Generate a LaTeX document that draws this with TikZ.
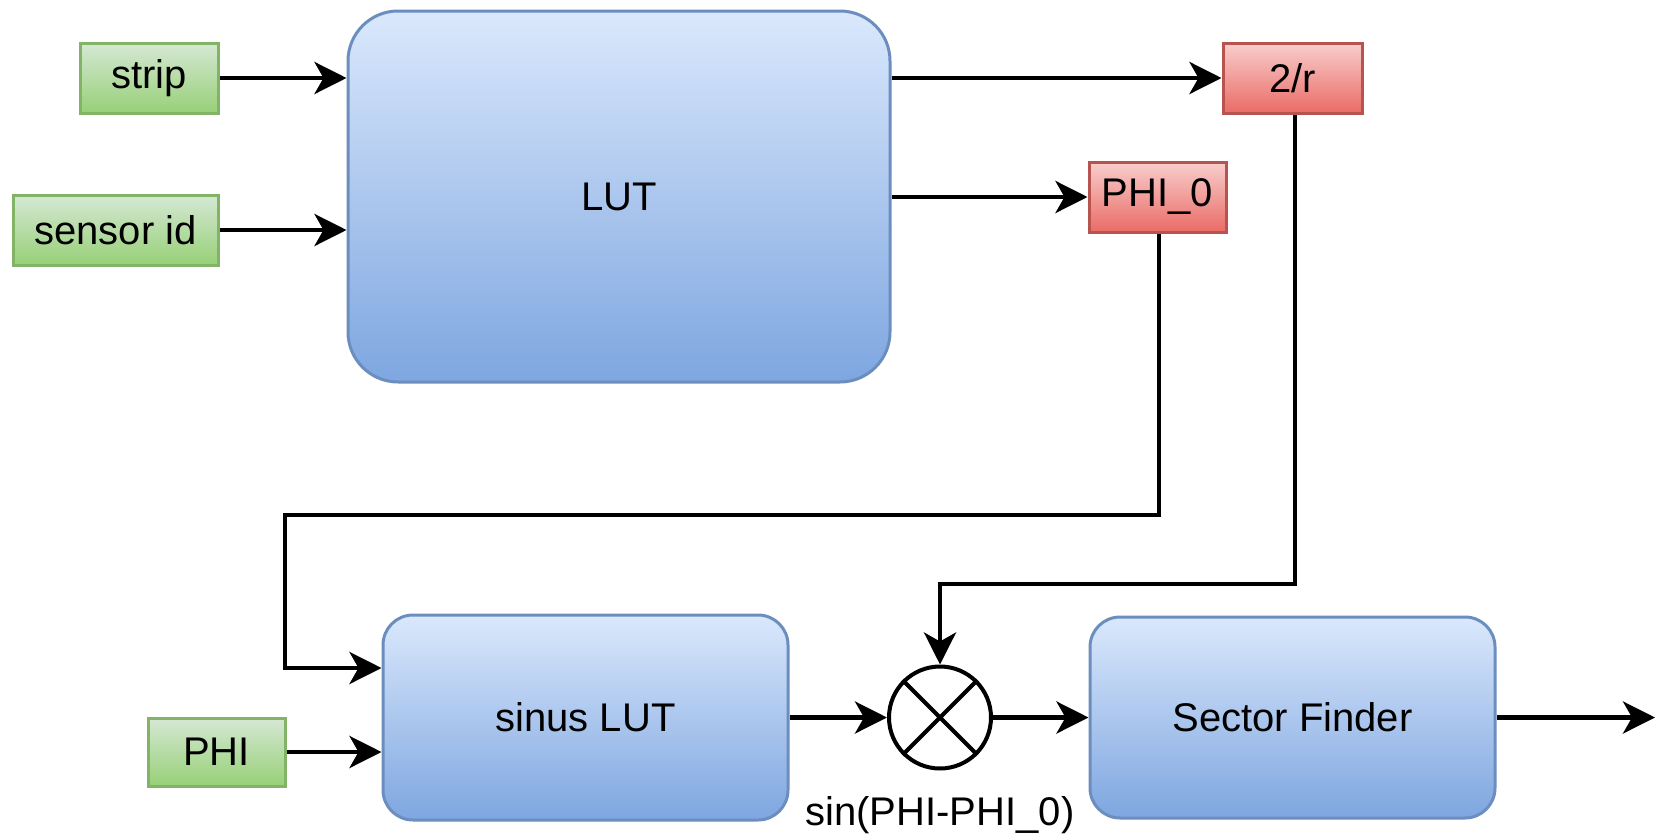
\documentclass[tikz,border=0pt]{standalone}
\usepackage{fontspec}
\setmainfont{Liberation Sans}
\usetikzlibrary{arrows.meta}

\definecolor{ingreen}{HTML}{D5E8D4}
\definecolor{ingreendark}{HTML}{97D077}
\definecolor{ingreenline}{HTML}{82B366}
\definecolor{outred}{HTML}{F8CECC}
\definecolor{outreddark}{HTML}{EA6B66}
\definecolor{outredline}{HTML}{B85450}
\definecolor{lutblue}{HTML}{DAE8FC}
\definecolor{lutbluedark}{HTML}{7EA6E0}
\definecolor{lutblueline}{HTML}{6C8EBF}

\tikzset{
  inbox/.style={draw=ingreenline,top color=ingreen,bottom color=ingreendark,
                minimum height=70pt},
  outbox/.style={draw=outredline,top color=outred,bottom color=outreddark,
                 minimum height=70pt,inner sep=2pt},
  lutbox/.style={draw=lutblueline,top color=lutblue,bottom color=lutbluedark},
}

\begin{document}
\begin{tikzpicture}[x=1pt,y=-1pt]
\useasboundingbox (0,0) rectangle (1655,838);

\begin{scope}[every node/.style={font=\fontsize{40}{46}\selectfont,line width=3pt}]
    \node[inbox,minimum width=138pt] (strip)  at (149,78)    {strip};
    \node[inbox,minimum width=205pt] (sensor) at (115.5,230) {sensor id};
    \node[inbox,minimum width=137pt,minimum height=68pt] (phi) at (216.5,752) {PHI};

    \node[lutbox,rounded corners=50pt,minimum width=542pt,minimum height=371pt]
        (lut) at (619,196.5) {LUT};
    \node[lutbox,rounded corners=30pt,minimum width=405pt,minimum height=205pt]
        (sinlut) at (585.5,717.5) {sinus LUT};
    \node[lutbox,rounded corners=30pt,minimum width=405pt,minimum height=201pt]
        (sector) at (1292.5,717.5) {Sector Finder};

    \node[outbox,minimum width=139pt] (twor) at (1292.5,78)  {2/r};
    \node[outbox,minimum width=137pt] (phi0) at (1157.5,197) {PHI\_0};

    \node[circle,draw,line width=4pt,minimum size=102pt,inner sep=0pt]
        (mult) at (940,717.5) {};
    \node (sinlabel) at (940,815) {sin(PHI-PHI\_0)};
\end{scope}

% multiplier cross
\draw[line width=4pt] (mult.45) -- (mult.225) (mult.135) -- (mult.315);

\coordinate (k1) at (285,515);
\coordinate (k2) at (1295,584);
\coordinate (out) at (1655,717.5);

\begin{scope}[>={Stealth[length=32pt,width=32pt,inset=9pt]},
              line width=4.5pt]
    \draw[->] (strip.east) -- (strip.east -| lut.west);
    \draw[->] (sensor.east) -- (sensor.east -| lut.west);
    \draw[->] (lut.east |- twor.west) -- (twor.west);
    \draw[->] (lut.east |- phi0.west) -- (phi0.west);

    \draw[->] ([xshift=1.5pt]phi0.south) |- (k1) |- ([yshift=49.5pt]sinlut.west);
    \draw[->] (phi.east) -- (phi.east -| sinlut.west);
    \draw[->] ([xshift=2.5pt]twor.south) -- (k2) -| (mult.north);

    \draw[->] (sinlut.east) -- (mult.west);
    \draw[->] (mult.east) -- (sector.west);
    \draw[->] (sector.east) -- (out);
\end{scope}
\end{tikzpicture}
\end{document}
